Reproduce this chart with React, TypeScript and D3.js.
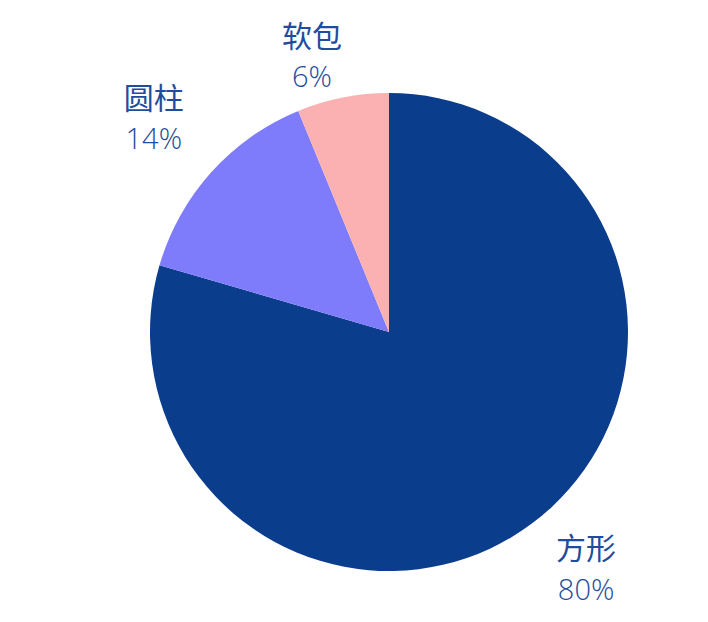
import React from "react";
import * as d3 from "d3";

const categories = ["方形", "圆柱", "软包"];
const values = [79.5, 14.3, 6.2];
const pctLabels = ["80%", "14%", "6%"];
const colors = ["#0b3d8d", "#7f7cfb", "#fbb1b1"];

const W = 708;
const H = 622;
const cx = 389;
const cy = 332;
const R = 239;
const labelR = 310;
// small radial/angle adjustments for label placement
const labelAngleShift = [-0.045, 0.0, -0.08];
const labelRScale = [1.0, 1.02, 0.915];

export default function App() {
  const data = categories.map((c, i) => ({ name: c, value: values[i], pct: pctLabels[i], color: colors[i], i }));
  const pie = d3.pie<any>().value((d) => d.value).sort(null).startAngle(0).endAngle(2 * Math.PI);
  const arcs = pie(data);
  const arc = d3.arc<any>().innerRadius(0).outerRadius(R);
  return (
    <svg width={W} height={H} style={{ position: "absolute", left: 0, top: 0, background: "#fff" }}>
      <g transform={`translate(${cx},${cy})`}>
        {arcs.map((a, i) => (
          <path key={i} d={arc(a) as string} fill={a.data.color} />
        ))}
        {arcs.map((a, i) => {
          const mid = (a.startAngle + a.endAngle) / 2 + labelAngleShift[i];
          const r = labelR * labelRScale[i];
          const x = Math.sin(mid) * r;
          const y = -Math.cos(mid) * r;
          return (
            <g key={"l" + i} transform={`translate(${x},${y})`} fill="#1f4c9c"
               style={{ fontFamily: "'Noto Sans CJK SC', 'Noto Sans', sans-serif", fontSize: 30 }}>
              <text textAnchor="middle" y={-25} dominantBaseline="central">{a.data.name}</text>
              <text textAnchor="middle" y={17} dominantBaseline="central" style={{ fontFamily: "'Open Sans', 'Noto Sans', sans-serif", fontWeight: 300, fontSize: 29 }}>{a.data.pct}</text>
            </g>
          );
        })}
      </g>
    </svg>
  );
}
